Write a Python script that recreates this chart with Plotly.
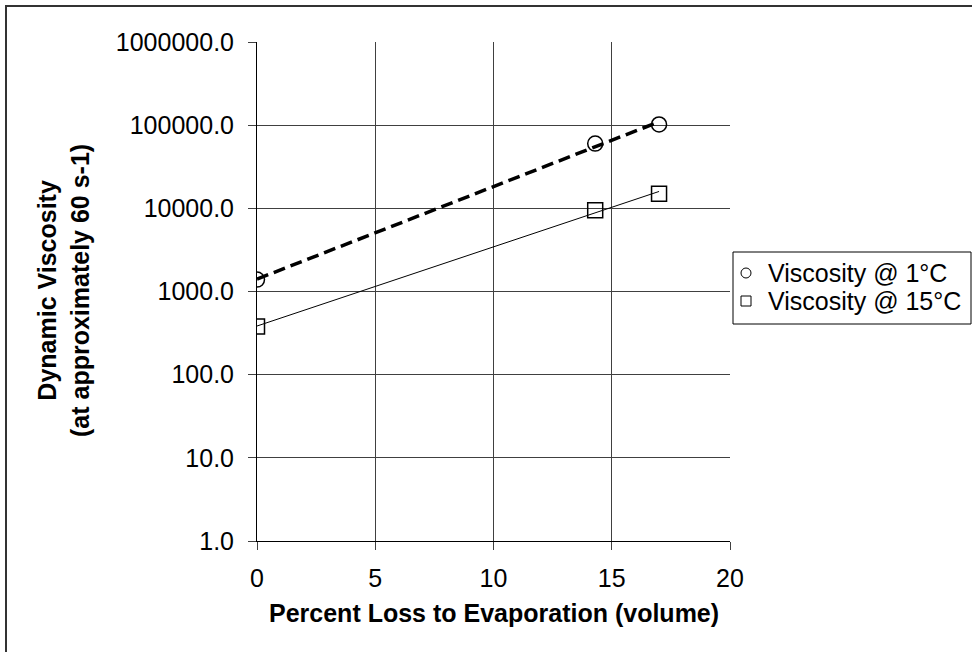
import numpy as np
import plotly.graph_objects as go

# ---- data ----
evap_pct = [0.0, 14.3, 17.0]
visc_1c = [1390.0, 60000.0, 102000.0]
visc_15c = [380.0, 9500.0, 15000.0]
series_names = ["Viscosity @ 1°C", "Viscosity @ 15°C"]
series_symbols = ["circle", "square"]
x_ticks = [0, 5, 10, 15, 20]
y_ticks = [1, 10, 100, 1000, 10000, 100000, 1000000]
y_tick_text = ["1.0", "10.0", "100.0", "1000.0", "10000.0", "100000.0", "1000000.0"]
x_title = "Percent Loss to Evaporation (volume)"
y_title_lines = ["Dynamic Viscosity", "(at approximately 60 s-1)"]

FONT = "Liberation Sans, Arial, sans-serif"
W, H = 972, 652
L, R, T, B = 257, 242, 42, 111
PW, PH = W - L - R, H - T - B


def px_x(p):
    return (p - L) / PW


def px_y(p):
    return (H - B - p) / PH


def exp_trend(xs, ys, n=60):
    c = np.polyfit(np.asarray(xs), np.log10(np.asarray(ys)), 1)
    xx = np.linspace(min(xs), max(xs), n)
    return xx, 10 ** np.polyval(c, xx)


fig = go.Figure()

tx1, ty1 = exp_trend(evap_pct, visc_1c)
tx2, ty2 = exp_trend(evap_pct, visc_15c)

fig.add_trace(go.Scatter(x=tx1, y=ty1, mode="lines", showlegend=False, hoverinfo="skip",
                         line=dict(color="black", width=3.5, dash="12px,6px")))
fig.add_trace(go.Scatter(x=tx2, y=ty2, mode="lines", showlegend=False, hoverinfo="skip",
                         line=dict(color="black", width=1)))

fig.add_trace(go.Scatter(x=evap_pct, y=visc_1c, mode="markers", name=series_names[0],
                         showlegend=False,
                         marker=dict(symbol="circle-open", size=15, color="black",
                                     line=dict(width=1.5, color="black"))))
fig.add_trace(go.Scatter(x=evap_pct, y=visc_15c, mode="markers", name=series_names[1],
                         showlegend=False,
                         marker=dict(symbol="square-open", size=15, color="black",
                                     line=dict(width=1.5, color="black"))))

GRID = "#404040"
fig.update_xaxes(range=[0, 20], tickvals=x_ticks, ticktext=[str(v) for v in x_ticks],
                 showgrid=True, gridcolor=GRID, gridwidth=1, zeroline=False,
                 showline=True, linecolor="black", linewidth=1,
                 ticks="outside", ticklen=8, tickcolor=GRID, tickwidth=1,
                 ticklabelstandoff=7,
                 tickfont=dict(family=FONT, size=25, color="black"))
fig.update_yaxes(type="log", range=[0, 6], tickvals=y_ticks, ticktext=y_tick_text,
                 showgrid=True, gridcolor=GRID, gridwidth=1, zeroline=False,
                 showline=True, linecolor="black", linewidth=1,
                 ticks="outside", ticklen=8, tickcolor=GRID, tickwidth=1,
                 ticklabelstandoff=9,
                 tickfont=dict(family=FONT, size=25, color="black"))

annotations = [
    dict(text="<b>" + x_title + "</b>", xref="paper", yref="paper",
         x=0.5, y=px_y(613), xanchor="center", yanchor="middle",
         showarrow=False, font=dict(family=FONT, size=25, color="black")),
    dict(text="<br>".join("<b>" + s + "</b>" for s in y_title_lines),
         xref="paper", yref="paper", textangle=-90,
         x=px_x(63), y=px_y(291), xanchor="center", yanchor="middle",
         showarrow=False, font=dict(family=FONT, size=25, color="black")),
]

shapes = [
    # outer chart frame
    dict(type="rect", xref="paper", yref="paper",
         x0=px_x(6), x1=px_x(1000), y0=px_y(700), y1=px_y(6),
         line=dict(color="#333333", width=2), fillcolor="rgba(0,0,0,0)",
         layer="above"),
    # legend box
    dict(type="rect", xref="paper", yref="paper",
         x0=px_x(733), x1=px_x(971), y0=px_y(324), y1=px_y(252),
         line=dict(color="black", width=1), fillcolor="white", layer="above"),
]

# legend entries (symbol + text), rows at fixed pixel positions
row_px = [273, 301]
for name, sym, ry in zip(series_names, series_symbols, row_px):
    shapes.append(dict(type="circle" if sym == "circle" else "rect",
                       xref="paper", yref="paper",
                       xsizemode="pixel", ysizemode="pixel",
                       xanchor=px_x(746), yanchor=px_y(ry),
                       x0=-5, x1=5, y0=-5, y1=5,
                       line=dict(color="black", width=1), fillcolor="white",
                       layer="above"))
    annotations.append(dict(text=name, xref="paper", yref="paper",
                            x=px_x(766), y=px_y(ry), xanchor="left", yanchor="middle",
                            showarrow=False,
                            font=dict(family=FONT, size=25, color="black")))

fig.update_layout(
    width=W, height=H,
    margin=dict(l=L, r=R, t=T, b=B, autoexpand=False),
    paper_bgcolor="white", plot_bgcolor="white",
    font=dict(family=FONT, color="black"),
    showlegend=False,
    annotations=annotations,
    shapes=shapes,
)

fig.write_html("out.html")
